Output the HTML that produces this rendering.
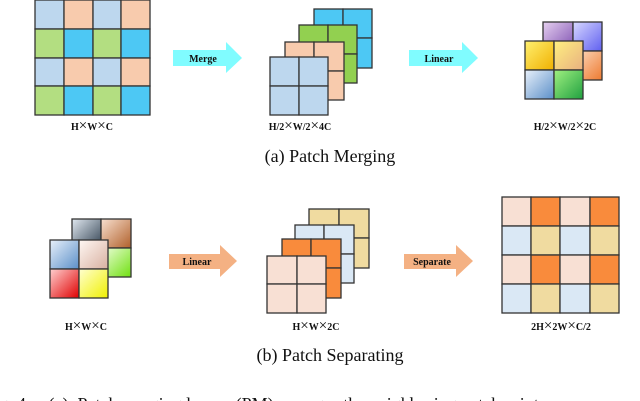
<!DOCTYPE html><html><head><style>body{margin:0;background:#fff}svg{display:block}.x{font-size:15px;font-weight:normal}</style></head><body>
<svg width="640" height="401" viewBox="0 0 640 401" xmlns="http://www.w3.org/2000/svg" font-family="Liberation Serif, serif">
<defs>
<linearGradient id="gP" x1="0" y1="0" x2="1" y2="1"><stop offset="0" stop-color="#e6d0f0"/><stop offset="1" stop-color="#7d4fb0"/></linearGradient>
<linearGradient id="gV" x1="0" y1="0" x2="1" y2="1"><stop offset="0" stop-color="#d8d8ff"/><stop offset="1" stop-color="#6060f0"/></linearGradient>
<linearGradient id="gO" x1="0" y1="0" x2="1" y2="1"><stop offset="0" stop-color="#fde0c8"/><stop offset="1" stop-color="#ee7a30"/></linearGradient>
<linearGradient id="gY" x1="0" y1="0" x2="1" y2="1"><stop offset="0" stop-color="#fff070"/><stop offset="1" stop-color="#f0b000"/></linearGradient>
<linearGradient id="gT" x1="0" y1="0" x2="1" y2="1"><stop offset="0" stop-color="#fff080"/><stop offset="1" stop-color="#e8b080"/></linearGradient>
<linearGradient id="gB" x1="0" y1="0" x2="1" y2="1"><stop offset="0" stop-color="#e8f0fa"/><stop offset="1" stop-color="#5b8fc8"/></linearGradient>
<linearGradient id="gG" x1="0" y1="0" x2="1" y2="1"><stop offset="0" stop-color="#a0f080"/><stop offset="1" stop-color="#20a040"/></linearGradient>
<linearGradient id="gK" x1="0" y1="0" x2="1" y2="1"><stop offset="0" stop-color="#e0e8f0"/><stop offset="1" stop-color="#304050"/></linearGradient>
<linearGradient id="gR" x1="0" y1="0" x2="1" y2="1"><stop offset="0" stop-color="#ffd0d0"/><stop offset="1" stop-color="#e00000"/></linearGradient>
<linearGradient id="gL" x1="0" y1="0" x2="1" y2="1"><stop offset="0" stop-color="#f0ffe0"/><stop offset="1" stop-color="#70e010"/></linearGradient>
<linearGradient id="gYY" x1="0" y1="0" x2="1" y2="1"><stop offset="0" stop-color="#ffffd0"/><stop offset="1" stop-color="#f0f000"/></linearGradient>
<linearGradient id="gBr" x1="0" y1="0" x2="1" y2="1"><stop offset="0" stop-color="#f8e0d0"/><stop offset="1" stop-color="#b0602a"/></linearGradient>
<linearGradient id="gPk" x1="0" y1="0" x2="1" y2="1"><stop offset="0" stop-color="#fff8f4"/><stop offset="1" stop-color="#d8b0a0"/></linearGradient>
</defs>
<g stroke="#333" stroke-width="1.3">
<rect x="35" y="0" width="29" height="29" fill="#bdd7ee"/><rect x="64" y="0" width="29" height="29" fill="#f8cbad"/><rect x="93" y="0" width="28" height="29" fill="#bdd7ee"/><rect x="121" y="0" width="29" height="29" fill="#f8cbad"/>
<rect x="35" y="29" width="29" height="29" fill="#b3de81"/><rect x="64" y="29" width="29" height="29" fill="#4dc8f4"/><rect x="93" y="29" width="28" height="29" fill="#b3de81"/><rect x="121" y="29" width="29" height="29" fill="#4dc8f4"/>
<rect x="35" y="58" width="29" height="28" fill="#bdd7ee"/><rect x="64" y="58" width="29" height="28" fill="#f8cbad"/><rect x="93" y="58" width="28" height="28" fill="#bdd7ee"/><rect x="121" y="58" width="29" height="28" fill="#f8cbad"/>
<rect x="35" y="86" width="29" height="29" fill="#b3de81"/><rect x="64" y="86" width="29" height="29" fill="#4dc8f4"/><rect x="93" y="86" width="28" height="29" fill="#b3de81"/><rect x="121" y="86" width="29" height="29" fill="#4dc8f4"/>
<g fill="#4dc8f4"><rect x="314" y="9" width="29" height="29"/><rect x="343" y="9" width="29" height="29"/><rect x="314" y="38" width="29" height="30"/><rect x="343" y="38" width="29" height="30"/></g>
<g fill="#92d050"><rect x="299" y="25" width="29" height="29"/><rect x="328" y="25" width="29" height="29"/><rect x="299" y="54" width="29" height="29"/><rect x="328" y="54" width="29" height="29"/></g>
<g fill="#f8cbad"><rect x="285" y="42" width="29" height="29"/><rect x="314" y="42" width="30" height="29"/><rect x="285" y="71" width="29" height="29"/><rect x="314" y="71" width="30" height="29"/></g>
<g fill="#bdd7ee"><rect x="270" y="57" width="29" height="29"/><rect x="299" y="57" width="29" height="29"/><rect x="270" y="86" width="29" height="29"/><rect x="299" y="86" width="29" height="29"/></g>
<rect x="543" y="22" width="30" height="29" fill="url(#gP)"/><rect x="573" y="22" width="29" height="29" fill="url(#gV)"/><rect x="543" y="51" width="30" height="29" fill="url(#gO)"/><rect x="573" y="51" width="29" height="29" fill="url(#gO)"/>
<rect x="525" y="41" width="29" height="29" fill="url(#gY)"/><rect x="554" y="41" width="29" height="29" fill="url(#gT)"/><rect x="525" y="70" width="29" height="29" fill="url(#gB)"/><rect x="554" y="70" width="29" height="29" fill="url(#gG)"/>
<rect x="72" y="219" width="29" height="29" fill="url(#gK)"/><rect x="101" y="219" width="30" height="29" fill="url(#gBr)"/><rect x="72" y="248" width="29" height="29" fill="url(#gL)"/><rect x="101" y="248" width="30" height="29" fill="url(#gL)"/>
<rect x="50" y="240" width="29" height="29" fill="url(#gB)"/><rect x="79" y="240" width="29" height="29" fill="url(#gPk)"/><rect x="50" y="269" width="29" height="29" fill="url(#gR)"/><rect x="79" y="269" width="29" height="29" fill="url(#gYY)"/>
<g fill="#f0dba0"><rect x="309" y="209" width="30" height="29"/><rect x="339" y="209" width="30" height="29"/><rect x="309" y="238" width="30" height="30"/><rect x="339" y="238" width="30" height="30"/></g>
<g fill="#dae8f5"><rect x="295" y="225" width="29" height="29"/><rect x="324" y="225" width="30" height="29"/><rect x="295" y="254" width="29" height="29"/><rect x="324" y="254" width="30" height="29"/></g>
<g fill="#f98b3c"><rect x="282" y="239" width="29" height="29"/><rect x="311" y="239" width="30" height="29"/><rect x="282" y="268" width="29" height="30"/><rect x="311" y="268" width="30" height="30"/></g>
<g fill="#f8e0d4"><rect x="267" y="256" width="30" height="28"/><rect x="297" y="256" width="29" height="28"/><rect x="267" y="284" width="30" height="29"/><rect x="297" y="284" width="29" height="29"/></g>
<rect x="502" y="197" width="29" height="29" fill="#f8e0d4"/><rect x="531" y="197" width="29" height="29" fill="#f98b3c"/><rect x="560" y="197" width="30" height="29" fill="#f8e0d4"/><rect x="590" y="197" width="29" height="29" fill="#f98b3c"/>
<rect x="502" y="226" width="29" height="29" fill="#dae8f5"/><rect x="531" y="226" width="29" height="29" fill="#f0dba0"/><rect x="560" y="226" width="30" height="29" fill="#dae8f5"/><rect x="590" y="226" width="29" height="29" fill="#f0dba0"/>
<rect x="502" y="255" width="29" height="29" fill="#f8e0d4"/><rect x="531" y="255" width="29" height="29" fill="#f98b3c"/><rect x="560" y="255" width="30" height="29" fill="#f8e0d4"/><rect x="590" y="255" width="29" height="29" fill="#f98b3c"/>
<rect x="502" y="284" width="29" height="29" fill="#dae8f5"/><rect x="531" y="284" width="29" height="29" fill="#f0dba0"/><rect x="560" y="284" width="30" height="29" fill="#dae8f5"/><rect x="590" y="284" width="29" height="29" fill="#f0dba0"/>
</g>
<polygon points="173,50 226,50 226,42 242,58 226,73 226,66 173,66" fill="#80fcff"/>
<polygon points="409,50 462,50 462,42 478,58 462,73 462,66 409,66" fill="#80fcff"/>
<polygon points="169,254 220,254 220,245 237,261 220,277 220,269 169,269" fill="#f4b183"/>
<polygon points="404,254 456,254 456,245 473,261 456,277 456,269 404,269" fill="#f4b183"/>
<g font-weight="bold" font-size="10" text-anchor="middle" fill="#111">
<text x="203" y="62">Merge</text><text x="439" y="62">Linear</text>
<text x="197" y="265">Linear</text><text x="432" y="265">Separate</text>
<text x="92" y="130">H<tspan class="x">×</tspan>W<tspan class="x">×</tspan>C</text>
<text x="300" y="130">H/2<tspan class="x">×</tspan>W/2<tspan class="x">×</tspan>4C</text>
<text x="565" y="130">H/2<tspan class="x">×</tspan>W/2<tspan class="x">×</tspan>2C</text>
<text x="86" y="330">H<tspan class="x">×</tspan>W<tspan class="x">×</tspan>C</text>
<text x="316" y="330">H<tspan class="x">×</tspan>W<tspan class="x">×</tspan>2C</text>
<text x="561" y="330">2H<tspan class="x">×</tspan>2W<tspan class="x">×</tspan>C/2</text>
</g>
<g font-size="18" text-anchor="middle" fill="#111">
<text x="330" y="162">(a)  Patch Merging</text>
<text x="330" y="361">(b)  Patch Separating</text>
</g>
<text x="-6" y="410" font-size="18" fill="#111" xml:space="preserve">ig. 4.    (a)  Patch merging layer   (PM)   merges the neighboring patches into</text>
</svg>
</body></html>
